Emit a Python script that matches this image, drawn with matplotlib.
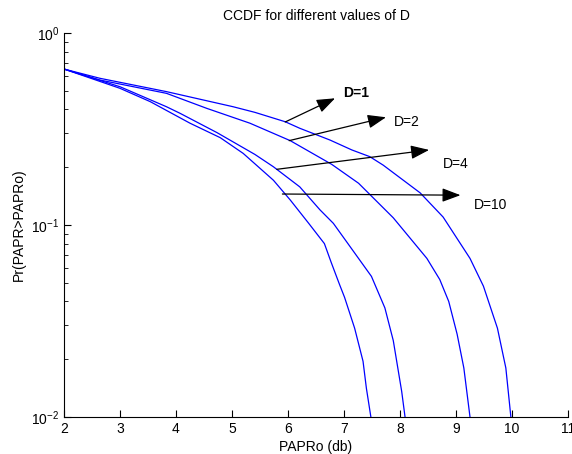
import numpy as np
import matplotlib
matplotlib.use('Agg')
import matplotlib.pyplot as plt

# ── Data (PAPRo in dB, CCDF probability) ──────────────────────────────────────
x_d1 = [2.0, 2.64, 3.83, 5.02, 5.41, 5.95, 6.21, 6.75, 7.14, 7.46, 7.70, 8.36, 8.77, 9.25, 9.49, 9.74, 9.89, 9.98]
y_d1 = [0.649, 0.581, 0.495, 0.413, 0.386, 0.345, 0.319, 0.277, 0.246, 0.227, 0.205, 0.147, 0.110, 0.067, 0.048, 0.029, 0.018, 0.010]

x_d2 = [2.0, 2.64, 3.83, 4.55, 5.32, 6.04, 6.78, 7.26, 7.88, 8.48, 8.71, 8.87, 9.02, 9.14, 9.25]
y_d2 = [0.649, 0.569, 0.485, 0.405, 0.339, 0.275, 0.207, 0.165, 0.109, 0.067, 0.052, 0.040, 0.027, 0.018, 0.010]

x_d4 = [2.0, 3.0, 3.83, 4.07, 4.73, 5.41, 5.74, 6.21, 6.57, 6.81, 7.07, 7.49, 7.73, 7.88, 8.03, 8.09]
y_d4 = [0.649, 0.525, 0.413, 0.382, 0.303, 0.233, 0.201, 0.158, 0.120, 0.102, 0.080, 0.054, 0.037, 0.025, 0.0136, 0.010]

x_d10 = [2.0, 3.0, 3.54, 4.25, 4.79, 5.20, 5.74, 6.04, 6.37, 6.65, 6.77, 6.92, 7.01, 7.19, 7.34, 7.40, 7.48]
y_d10 = [0.649, 0.515, 0.439, 0.339, 0.285, 0.236, 0.171, 0.135, 0.102, 0.080, 0.064, 0.049, 0.042, 0.029, 0.0195, 0.0141, 0.010]

# arrow labels: (text, arrow tail, arrow head, text position, weight)
labels = ['D=1', 'D=2', 'D=4', 'D=10']
arrow_tail = [(5.95, 0.344), (6.02, 0.275), (5.80, 0.195), (5.90, 0.145)]
arrow_head = [(6.84, 0.457), (7.75, 0.364), (8.52, 0.246), (9.08, 0.143)]
text_pos = [(6.98, 0.485), (7.89, 0.345), (8.76, 0.208), (9.32, 0.127)]
weights = ['bold', 'normal', 'normal', 'normal']

x_ticks = list(range(2, 12))

# ── Figure setup ───────────────────────────────────────────────────────────────
plt.rcParams['font.family'] = ['Liberation Sans', 'DejaVu Sans']
plt.rcParams['mathtext.fontset'] = 'custom'
plt.rcParams['mathtext.rm'] = 'Liberation Sans'
plt.rcParams['mathtext.default'] = 'regular'

W, H = 572, 454
fig = plt.figure(figsize=(W / 100, H / 100), dpi=100)
ax = fig.add_axes([64 / W, 1 - 417 / H, (568 - 64) / W, (417 - 33) / H])

for xs, ys in [(x_d1, y_d1), (x_d2, y_d2), (x_d4, y_d4), (x_d10, y_d10)]:
    ax.plot(xs, ys, color='#0000ff', lw=0.9)

ax.set_yscale('log')
ax.set_xlim(2, 11)
ax.set_ylim(1e-2, 1)
ax.set_xticks(x_ticks)
ax.set_xticklabels([str(t) for t in x_ticks])
ax.set_yticks([1e-2, 1e-1, 1])
ax.set_yticklabels([r'$10^{-2}$', r'$10^{-1}$', r'$10^{0}$'])

ax.spines['top'].set_visible(False)
ax.spines['right'].set_visible(False)
ax.spines['left'].set_linewidth(0.8)
ax.spines['bottom'].set_linewidth(0.8)
ax.tick_params(which='major', direction='in', length=5, width=0.8, labelsize=10)
ax.tick_params(which='minor', direction='in', length=3, width=0.6)

ax.set_title('CCDF for different values of D', fontsize=10, pad=9)
ax.set_xlabel('PAPRo (db)', fontsize=10, labelpad=3)
ax.set_ylabel('Pr(PAPR>PAPRo)', fontsize=10, labelpad=4)

# ── Arrow annotations ─────────────────────────────────────────────────────────
for lab, tail, head, tpos, wt in zip(labels, arrow_tail, arrow_head, text_pos, weights):
    ax.annotate('', xy=head, xytext=tail,
                arrowprops=dict(arrowstyle='-|>,head_length=0.8,head_width=0.3',
                                color='black', lw=0.9, shrinkA=0, shrinkB=0,
                                mutation_scale=14))
    ax.text(tpos[0], tpos[1], lab, fontsize=10, fontweight=wt,
            ha='left', va='center')

fig.savefig('out.png', dpi=100)
